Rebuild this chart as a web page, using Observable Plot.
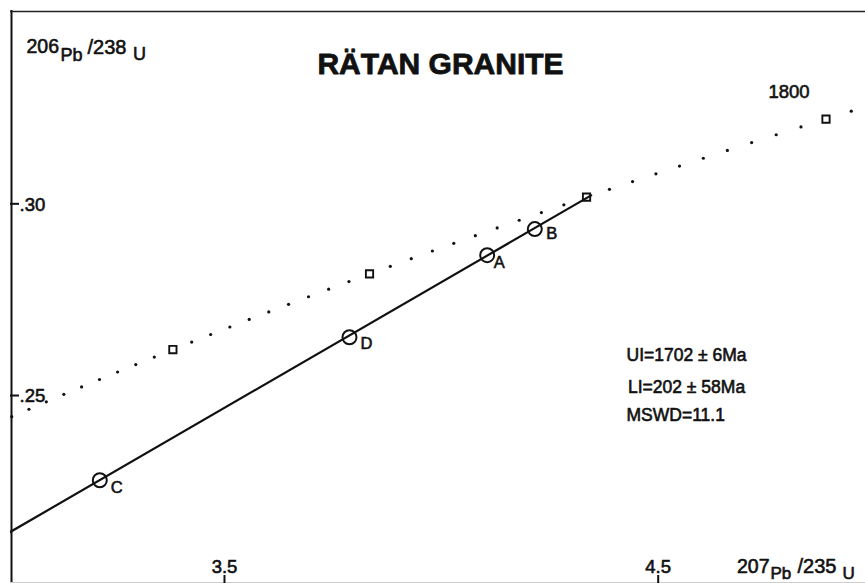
<!DOCTYPE html>
<html>
<head>
<meta charset="utf-8">
<script src="https://cdn.jsdelivr.net/npm/d3@7"></script>
<script src="https://cdn.jsdelivr.net/npm/@observablehq/plot@0.6"></script>
<style>
  html, body { margin: 0; padding: 0; background: #fff; }
  #chart svg { display: block; }
</style>
</head>
<body>
<div id="chart"></div>
<script>
// ---- Data ----
// Concordia points every 10 Ma (Ma, 207Pb/235U, 206Pb/238U)
const concordiaAge = [1410,1420,1430,1440,1450,1460,1470,1480,1490,1500,1510,1520,1530,1540,1550,1560,1570,1580,1590,1600,1610,1620,1630,1640,1650,1660,1670,1680,1690,1700,1710,1720,1730,1740,1750,1760,1770,1780,1790,1800,1810];
const concordia207 = [3.0094,3.0491,3.0892,3.1296,3.1705,3.2118,3.2535,3.2955,3.3381,3.3810,3.4244,3.4681,3.5124,3.5570,3.6021,3.6477,3.6937,3.7401,3.7870,3.8344,3.8823,3.9306,3.9794,4.0287,4.0784,4.1287,4.1795,4.2307,4.2825,4.3348,4.3876,4.4409,4.4948,4.5491,4.6041,4.6595,4.7155,4.7721,4.8292,4.8869,4.9452];
const concordia206 = [0.24449,0.24642,0.24836,0.25030,0.25224,0.25418,0.25613,0.25808,0.26003,0.26199,0.26395,0.26591,0.26787,0.26984,0.27181,0.27379,0.27576,0.27774,0.27973,0.28171,0.28370,0.28570,0.28769,0.28969,0.29169,0.29370,0.29571,0.29772,0.29973,0.30175,0.30377,0.30580,0.30782,0.30985,0.31189,0.31392,0.31596,0.31801,0.32005,0.32210,0.32416];
const squareAges = [1500, 1600, 1700, 1800];
const labelledAge = 1800;

// Analysed fractions
const fractionNames = ["C", "D", "A", "B"];
const fraction207 = [3.2125, 3.7882, 4.1057, 4.2155];
const fraction206 = [0.2279, 0.2652, 0.2866, 0.2934];

// Discordia: lower intercept (202 Ma) to upper intercept (1702 Ma)
const discordia207 = [0.2201, 4.3454];
const discordia206 = [0.0318, 0.3022];

// Axes
const xTicks = [3.5, 4.5];
const xTickLabels = ["3.5", "4.5"];
const yTicks = [0.25, 0.30];
const yTickLabels = [".25", ".30"];
const xDomain = [3.0066, 4.9780];
const yDomain = [0.20097, 0.35042];

const titleText = "RÄTAN GRANITE";
const statLines = ["UI=1702 ± 6Ma", "LI=202 ± 58Ma", "MSWD=11.1"];

// ---- Build tables ----
const concordia = concordiaAge.map((a, i) => ({age: a, x: concordia207[i], y: concordia206[i]}));
const fractions = fractionNames.map((n, i) => ({name: n, x: fraction207[i], y: fraction206[i]}));
const discordia = discordia207.map((x, i) => ({x, y: discordia206[i]}));

// ---- Layout (pixels) ----
const W = 865, H = 583, ML = 10, MT = 10;
const FONT = "'Liberation Sans', Arial, Helvetica, sans-serif";
const INK = "#111";
const SW = 0.6; // stroke to thicken the lettering like the photocopied original
const txt = (s, px, py, size, extra = {}) =>
  Plot.text([s], {text: d => d, frameAnchor: "top-left", dx: px - ML, dy: py - MT,
    textAnchor: "start", lineAnchor: "bottom", fontSize: size, fill: INK,
    stroke: INK, strokeWidth: SW, ...extra});

const labelOffset = {C: [11, 12.5], D: [11, 12], A: [6.5, 13], B: [11.5, 10]};

const marks = [
  // frame (left and top) and faint bottom edge
  Plot.ruleX([xDomain[0]], {stroke: INK, strokeWidth: 2, dx: 1}),
  Plot.ruleY([yDomain[1]], {stroke: "#222", strokeWidth: 1.6, dy: 1}),
  Plot.ruleY([yDomain[0]], {stroke: "#ccc", strokeWidth: 1, dy: -1}),
  // ticks
  Plot.tickY(yTicks, {y: d => d, insetRight: W - ML - 9, stroke: INK, strokeWidth: 2}),
  Plot.tickX(xTicks, {x: d => d, insetTop: H - MT - 8, stroke: INK, strokeWidth: 2}),
  Plot.text(yTicks, {y: d => d, text: (d, i) => yTickLabels[i], frameAnchor: "left", dx: 9, dy: 1,
    textAnchor: "start", lineAnchor: "middle", fontSize: 18.5, fill: INK, stroke: INK, strokeWidth: SW}),
  Plot.text(xTicks, {x: d => d, text: (d, i) => xTickLabels[i], frameAnchor: "bottom", dy: -11,
    textAnchor: "middle", lineAnchor: "bottom", fontSize: 18.5, fill: INK, stroke: INK, strokeWidth: SW}),
  // concordia dots and squares
  Plot.dot(concordia.filter(d => !squareAges.includes(d.age)), {x: "x", y: "y", r: 1.6, fill: INK, clip: true}),
  Plot.dot(concordia.filter(d => squareAges.includes(d.age)), {x: "x", y: "y", symbol: "square", r: 4.1,
    fill: "none", stroke: INK, strokeWidth: 1.9, clip: true}),
  Plot.text(concordia.filter(d => d.age === labelledAge), {x: "x", y: "y", text: d => String(d.age),
    dx: -37, dy: -21.5, textAnchor: "middle", lineAnchor: "bottom", fontSize: 18.5, fill: INK, stroke: INK, strokeWidth: SW}),
  // discordia
  Plot.line(discordia, {x: "x", y: "y", stroke: INK, strokeWidth: 2.2, clip: true}),
  // fractions
  Plot.dot(fractions, {x: "x", y: "y", r: 7, fill: "none", stroke: INK, strokeWidth: 2}),
  ...fractions.map(f => Plot.text([f], {x: "x", y: "y", text: "name", dx: labelOffset[f.name][0], dy: labelOffset[f.name][1],
    textAnchor: "start", lineAnchor: "bottom", fontSize: 16.5, fill: INK, stroke: INK, strokeWidth: SW})),
  // title
  Plot.text([titleText], {text: d => d, frameAnchor: "top", dx: 2.5, dy: 63, textAnchor: "middle",
    lineAnchor: "bottom", fontSize: 30, fontWeight: "bold", fill: INK, stroke: INK, strokeWidth: 0.8}),
  // y axis label 206Pb/238U
  txt("206", 26, 52.7, 19.5),
  txt("Pb", 60, 60, 18),
  txt("/238", 87, 53, 20),
  txt("U", 132.5, 59.5, 18),
  // x axis label 207Pb/235U
  txt("207", 736.5, 572.5, 19.5),
  txt("Pb", 770, 578.5, 17),
  txt("/235", 797, 572.5, 20),
  txt("U", 842, 578.5, 17),
  // statistics
  txt(statLines[0], 626, 360, 17.5),
  txt(statLines[1], 627.5, 392.7, 17.5),
  txt(statLines[2], 626, 420, 17.5)
];

const chart = Plot.plot({
  width: W,
  height: H,
  marginLeft: ML,
  marginTop: MT,
  marginRight: 0,
  marginBottom: 0,
  style: {fontFamily: FONT, background: "#fff", color: INK, overflow: "visible"},
  x: {domain: xDomain, axis: null},
  y: {domain: yDomain, axis: null},
  marks
});
document.getElementById("chart").appendChild(chart);
</script>
</body>
</html>
